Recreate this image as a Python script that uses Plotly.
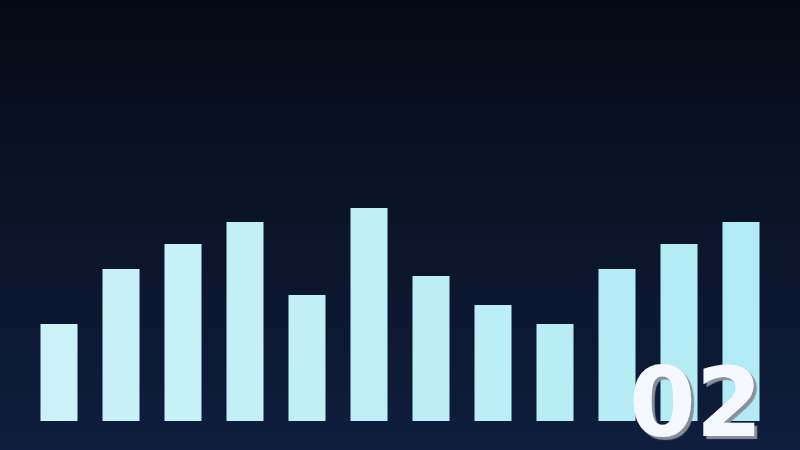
import plotly.graph_objects as go

# chart data
categories = ["01", "02", "03", "04", "05", "06", "07", "08", "09", "10", "11", "12"]
values = [45.5, 71.4, 83.1, 93.4, 59.2, 100, 68.1, 54.5, 45.5, 71.4, 83.1, 93.4]
label = "02"


def mix(c1, c2, t):
    a = [int(c1[i:i + 2], 16) for i in (1, 3, 5)]
    b = [int(c2[i:i + 2], 16) for i in (1, 3, 5)]
    return "#%02x%02x%02x" % tuple(round(a[k] + (b[k] - a[k]) * t) for k in range(3))


n = len(categories)
bar_colors = [mix("#caf2f7", "#b2ebf5", i / (n - 1)) for i in range(n)]

fig = go.Figure()
fig.add_trace(go.Bar(x=categories, y=values, marker_color=bar_colors,
                     marker_line_width=0, hoverinfo="skip"))

# vertical background gradient built from thin bands
shapes = []
steps = 150
y0, y1 = -29 / 421, 1.0
for i in range(steps):
    a = y0 + (y1 - y0) * i / steps
    b = y0 + (y1 - y0) * (i + 1) / steps + 0.002
    shapes.append(dict(type="rect", xref="paper", yref="paper",
                       x0=-0.05, x1=1.05, y0=a, y1=b, layer="below",
                       line_width=0, fillcolor=mix("#0f1e3e", "#060a14", i / (steps - 1))))

fig.update_layout(
    width=800, height=450,
    margin=dict(l=28, r=28, t=0, b=29),
    paper_bgcolor="#0f1e3e", plot_bgcolor="rgba(0,0,0,0)",
    bargap=0.403, showlegend=False, shapes=shapes,
    xaxis=dict(visible=False, range=[-0.5, n - 0.5]),
    yaxis=dict(visible=False, range=[0, 421 / 2.13]),
    annotations=[dict(text="<b>%s</b>" % label, xref="paper", yref="paper",
                      x=(765 - 28) / 744, y=-0.096, xanchor="right", yanchor="bottom",
                      showarrow=False,
                      font=dict(family="DejaVu Sans", size=96, color="#f5f8ff",
                                shadow="3px 3px 1px #8a8f99"))],
)

fig.write_html("out.html", config={"displayModeBar": False},
               post_script="document.body.style.margin='0';")
